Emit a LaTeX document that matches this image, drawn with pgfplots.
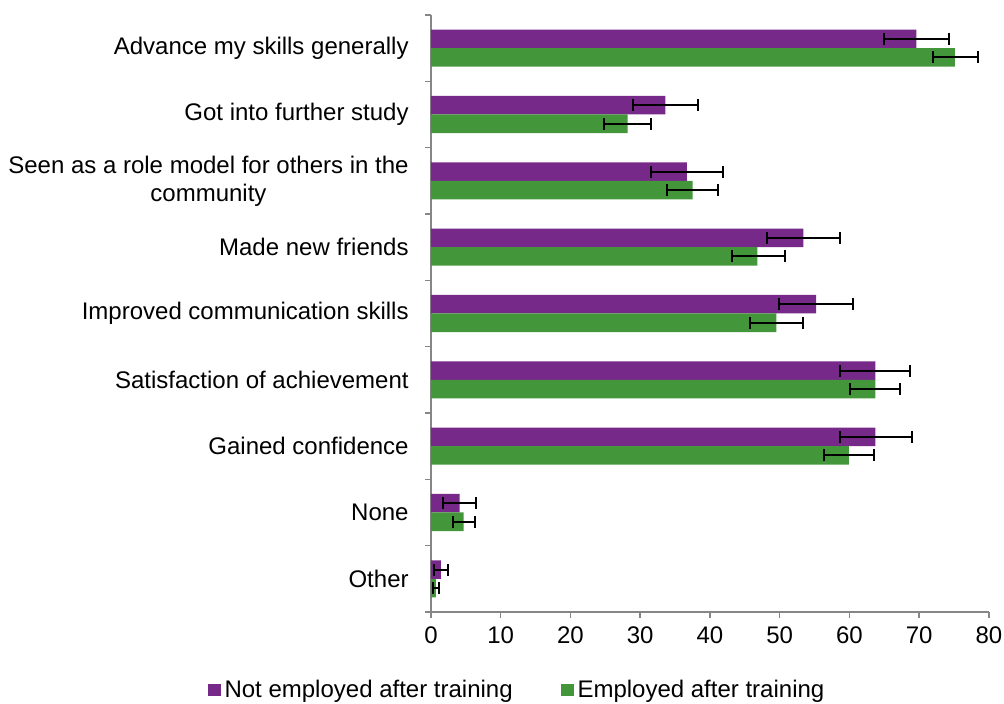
\documentclass[border=0pt]{standalone}
\usepackage{fontspec}
\setmainfont{Liberation Sans}
\usepackage{pgfplots}
\pgfplotsset{compat=1.18}
\usepackage{pgfplotstable}

\definecolor{notemp}{RGB}{119,41,137}
\definecolor{emp}{RGB}{67,150,58}
\definecolor{axgray}{RGB}{134,134,134}

% y: 0 = Other ... 8 = Advance my skills generally
\pgfplotstableread{
y val em ep
0 1.4  1.0 1.0
1 4.1  2.35 2.3
2 63.7 5.1 5.2
3 63.7 5.0 5.0
4 55.2 5.3 5.3
5 53.4 5.2 5.3
6 36.7 5.1 5.2
7 33.6 4.6 4.7
8 69.6 4.7 4.7
}\notemployed

\pgfplotstableread{
y val em ep
0 0.7  0.4 0.4
1 4.66 1.5 1.6
2 59.9 3.6 3.6
3 63.7 3.6 3.5
4 49.5 3.7 3.8
5 46.8 3.7 3.9
6 37.5 3.7 3.7
7 28.2 3.4 3.4
8 75.1 3.1 3.3
}\employed

\begin{document}
\begin{tikzpicture}
\begin{axis}[
  scale only axis,
  width=279pt, height=298.5pt,
  xmin=0, xmax=80, ymin=-0.5, ymax=8.5,
  axis x line*=bottom, axis y line*=left,
  axis line style={axgray, line width=0.75pt},
  xtick={0,10,...,80},
  ytick={0,...,8},
  yticklabels={Other, None, Gained confidence, Satisfaction of achievement,
    Improved communication skills, Made new friends,
    {Seen as a role model for others in the\\community},
    Got into further study, Advance my skills generally},
  minor ytick={-0.5,0.5,...,8.5},
  tick align=outside,
  major tick length=3pt, minor tick length=3pt,
  major x tick style={axgray, line width=0.75pt},
  minor y tick style={axgray, line width=0.75pt},
  major y tick style={draw=none},
  /pgf/number format/assume math mode=true,
  tick label style={font=\fontsize{12}{14}\selectfont},
  yticklabel style={align=center, inner sep=0pt, xshift=-8pt},
  xticklabel style={inner sep=0pt, yshift=-4pt},
  xbar, bar width=0.28,
  legend style={at={(0.156,-0.1307)}, anchor=center, draw=none,
    font=\fontsize{12}{14}\selectfont, legend columns=2,
    /tikz/every even column/.append style={column sep=22pt}},
  legend image code/.code={\fill[#1] (0pt,-3.2pt) rectangle (6.4pt,3.2pt);},
]
\addplot[fill=notemp, draw=none, bar shift=0.14,
  error bars/.cd, x dir=both, x explicit, error mark=|,
  error bar style={black, line width=1pt},
  error mark options={black, line width=1pt, mark size=3pt}]
  table[x=val, y=y, x error minus=em, x error plus=ep] {\notemployed};
\addlegendentry{Not employed after training}
\addplot[fill=emp, draw=none, bar shift=-0.14,
  error bars/.cd, x dir=both, x explicit, error mark=|,
  error bar style={black, line width=1pt},
  error mark options={black, line width=1pt, mark size=3pt}]
  table[x=val, y=y, x error minus=em, x error plus=ep] {\employed};
\addlegendentry{Employed after training}
\end{axis}
\pgfresetboundingbox
\path[use as bounding box] ([shift={(-215.5pt,-46pt)}]current axis.south west)
  rectangle ([shift={(7.5pt,7.5pt)}]current axis.north east);
\end{tikzpicture}
\end{document}
